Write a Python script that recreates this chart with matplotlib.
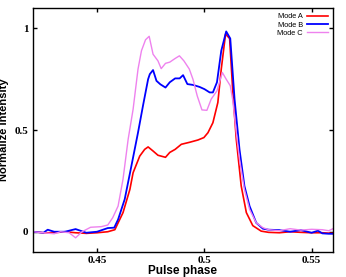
import numpy as np
import matplotlib.pyplot as plt

# Mode A (red)
phase_a = [0.420, 0.425, 0.430, 0.435, 0.440, 0.445, 0.450, 0.455, 0.4583, 0.4621, 0.4653,
           0.4668, 0.4699, 0.4722, 0.4738, 0.4761, 0.4784, 0.4819, 0.4839, 0.4864, 0.4893,
           0.4932, 0.4970, 0.4998, 0.5017, 0.5040, 0.5063, 0.5079, 0.5099, 0.5118, 0.5133,
           0.5149, 0.5172, 0.5196, 0.5226, 0.5265, 0.530, 0.535, 0.540, 0.545, 0.550, 0.555, 0.560]
mode_a = [0.0, -0.005, -0.005, 0.0, -0.005, -0.008, -0.005, 0.0, 0.01, 0.094, 0.208,
          0.29, 0.372, 0.405, 0.417, 0.397, 0.376, 0.366, 0.39, 0.405, 0.43,
          0.44, 0.451, 0.463, 0.487, 0.536, 0.635, 0.80, 0.972, 0.95, 0.685,
          0.455, 0.225, 0.094, 0.03, 0.003, -0.003, -0.005, 0.0, -0.003, -0.005, -0.005, -0.008]

# Mode B (blue)
phase_b = [0.420, 0.425, 0.427, 0.430, 0.435, 0.440, 0.445, 0.450, 0.455, 0.458, 0.4598,
           0.4629, 0.4660, 0.4691, 0.4714, 0.4738, 0.4746, 0.4761, 0.4777, 0.4795, 0.4819,
           0.4839, 0.4864, 0.4885, 0.4901, 0.4921, 0.4947, 0.4978, 0.5001, 0.5025, 0.5040,
           0.5059, 0.5079, 0.5102, 0.5121, 0.5141, 0.5164, 0.5187, 0.5211, 0.5242, 0.5273,
           0.530, 0.535, 0.540, 0.545, 0.550, 0.553, 0.555, 0.558, 0.560]
mode_b = [0.0, -0.005, 0.01, 0.0, 0.0, 0.013, -0.005, 0.0, 0.018, 0.02, 0.06,
          0.16, 0.323, 0.488, 0.619, 0.75, 0.775, 0.795, 0.742, 0.725, 0.709,
          0.735, 0.754, 0.754, 0.77, 0.726, 0.722, 0.712, 0.701, 0.685, 0.685,
          0.735, 0.89, 0.985, 0.95, 0.652, 0.405, 0.225, 0.126, 0.044, 0.015,
          0.01, 0.008, 0.0, 0.008, -0.005, 0.005, -0.008, -0.01, -0.01]

# Mode C (violet)
phase_c = [0.420, 0.425, 0.430, 0.433, 0.437, 0.440, 0.443, 0.447, 0.452, 0.455, 0.4573,
           0.4598, 0.4621, 0.4645, 0.4668, 0.4691, 0.4707, 0.4726, 0.4743, 0.4761, 0.4784,
           0.4799, 0.4819, 0.4839, 0.4864, 0.4884, 0.4905, 0.4930, 0.4947, 0.4967, 0.4989,
           0.5012, 0.5032, 0.5059, 0.5084, 0.5102, 0.5121, 0.5133, 0.5149, 0.5164, 0.5187,
           0.5211, 0.5242, 0.5273, 0.530, 0.535, 0.540, 0.545, 0.550, 0.555, 0.558, 0.560]
mode_c = [0.0, -0.005, -0.01, 0.0, -0.005, -0.03, 0.0, 0.022, 0.025, 0.033, 0.069,
          0.126, 0.258, 0.455, 0.602, 0.80, 0.89, 0.944, 0.961, 0.873, 0.84,
          0.802, 0.828, 0.834, 0.852, 0.865, 0.84, 0.80, 0.75, 0.668, 0.599,
          0.597, 0.652, 0.693, 0.783, 0.75, 0.718, 0.644, 0.488, 0.356, 0.208,
          0.11, 0.044, 0.02, 0.01, 0.005, 0.015, 0.008, 0.012, 0.01, 0.005, 0.015]

fig = plt.figure(figsize=(3.46, 2.77), dpi=100)
ax = fig.add_axes([0.0945, 0.09, 0.868, 0.881])

ax.plot(phase_a, mode_a, color='#ff0000', lw=1.2, label='Mode A')
ax.plot(phase_b, mode_b, color='#0000ff', lw=1.3, label='Mode B')
ax.plot(phase_c, mode_c, color='#ee82ee', lw=1.0, label='Mode C')

ax.set_xlim(0.42, 0.56)
ax.set_ylim(-0.1, 1.1)
ax.set_xticks([0.45, 0.5, 0.55])
ax.set_xticklabels(['0.45', '0.5', '0.55'])
ax.set_yticks([0, 0.5, 1])
ax.set_yticklabels(['0', '0.5', '1'])
ax.tick_params(direction='in', top=True, right=True, length=3, width=1, pad=3)
for lab in ax.get_xticklabels() + ax.get_yticklabels():
    lab.set_fontfamily('Liberation Serif')
    lab.set_fontweight('bold')
    lab.set_fontsize(8)
for s in ax.spines.values():
    s.set_linewidth(1.0)

ax.set_xlabel('Pulse phase', fontsize=8.5, fontweight='bold', family='Liberation Sans', labelpad=-0.5)
ax.set_ylabel('Normalize Intensity', fontsize=8, fontweight='bold', family='Liberation Sans', labelpad=4)

leg = ax.legend(loc='upper right', frameon=False, markerfirst=False,
                handlelength=2.8, labelspacing=0.15, borderaxespad=0.3, handletextpad=0.6,
                prop={'family': 'Liberation Sans', 'size': 5.3})

fig.savefig('out.png', dpi=100)
